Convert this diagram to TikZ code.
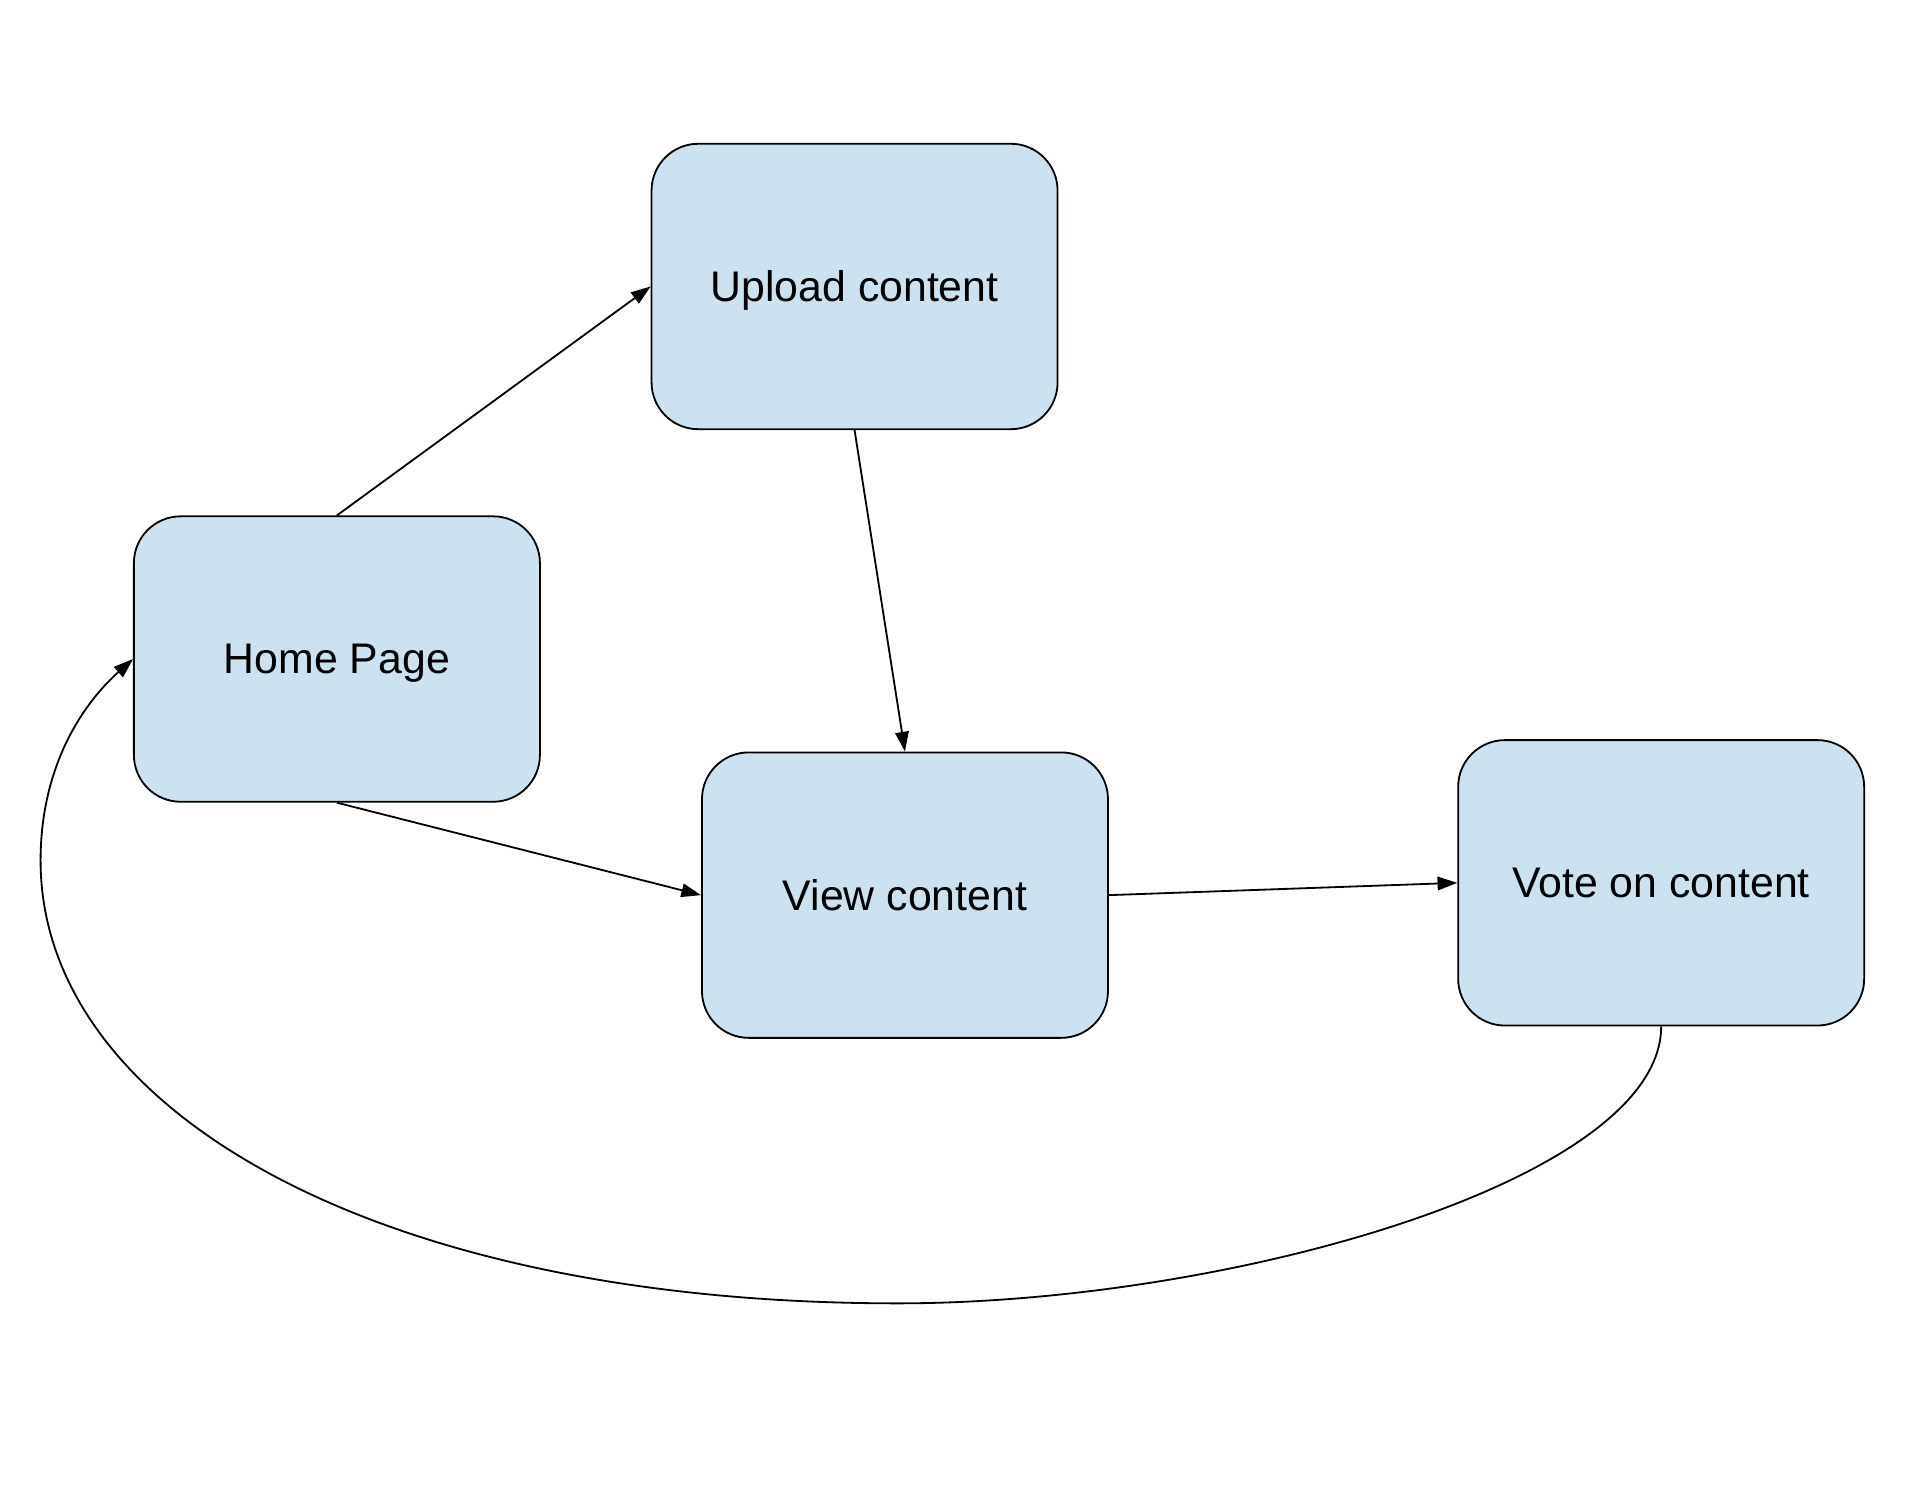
\documentclass[tikz,border=0pt]{standalone}
\usepackage{fontspec}
\setmainfont{Liberation Sans}
\usetikzlibrary{arrows.meta}
\definecolor{boxblue}{HTML}{CDE2F1}

\begin{document}
\begin{tikzpicture}[x=0.01cm, y=-0.01cm, line width=0.42pt,
    pagebox/.style={draw, fill=boxblue, rounded corners=0.38cm, minimum width=3.3cm,
      minimum height=2.32cm, inner sep=0pt, text depth=0pt, font=\fontsize{9.9}{12}\selectfont},
    >={Triangle[length=0.16cm, width=0.11cm]}]
      \useasboundingbox (0,0) rectangle (1568,1222);
      \node[pagebox] (Upload) at (695,233) {Upload content};
      \node[pagebox] (Home) at (274,536) {Home Page};
      \node[pagebox] (View) at (736,728) {View content};
      \node[pagebox] (Vote) at (1351,718) {Vote on content};
      \draw [->] (Home.north) to (Upload.west);
      \draw [->] (Upload.south) to (View.north);
      \draw [->] (Home.south) to (View.west);
      \draw [->] (View.east) to (Vote.west);
      \draw [->] (Vote.south) .. controls (1351,960) and (1000,1060) .. (730,1060)
        .. controls (300,1060) and (33,900) .. (33,700)
        .. controls (33,620) and (70,570) .. (Home.west);
      \end{tikzpicture}
\end{document}
